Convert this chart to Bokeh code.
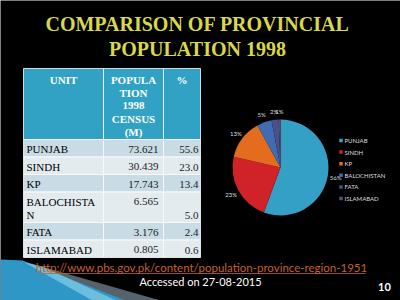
import numpy as np
from bokeh.plotting import figure
from bokeh.models import Range1d
from bokeh.embed import file_html
from bokeh.resources import INLINE
from bokeh.core.properties import value

# ---------------- data ----------------
title_lines = ["COMPARISON OF PROVINCIAL", "POPULATION 1998"]
units = ["PUNJAB", "SINDH", "KP", "BALOCHISTAN", "FATA", "ISLAMABAD"]
unit_cell_lines = [["PUNJAB"], ["SINDH"], ["KP"], ["BALOCHISTA", "N"], ["FATA"], ["ISLAMABAD"]]
population = [73.621, 30.439, 17.743, 6.565, 3.176, 0.805]
population_txt = ["73.621", "30.439", "17.743", "6.565", "3.176", "0.805"]
percent_txt = ["55.6", "23.0", "13.4", "5.0", "2.4", "0.6"]
pie_labels = ["56%", "23%", "13%", "5%", "2%", "1%"]
header_cells = [["UNIT"], ["POPULA", "TION", "1998", "CENSUS", "(M)"], ["%"]]
slice_colors = ["#35a0c6", "#cf2229", "#e46c1e", "#3f6cb2", "#4b4f8e", "#5e5068"]
link_text = "http://www.pbs.gov.pk/content/population-province-region-1951"
access_text = "Accessed on 27-08-2015"
slide_no = "10"

# ---------------- layout ----------------
W, H = 400, 300
def Y(v):
    return H - v

p = figure(width=W, height=H, x_range=Range1d(0, W), y_range=Range1d(0, H),
           output_backend="svg", toolbar_location=None, min_border=0)
p.axis.visible = False
p.grid.visible = False
p.outline_line_color = None
p.background_fill_color = "black"
p.border_fill_color = "black"

serif = value("Liberation Serif")
sans = value("Lato")

# title
for i, t in enumerate(title_lines):
    p.text(x=[197], y=[Y(23.5 + 25 * i)], text=[t], text_font=serif,
           text_font_style="bold", text_font_size="20px", text_color="#d8d84a",
           text_align="center", text_baseline="middle")

# table
col_edges = [23, 103, 163, 200]
table_top = 68
header_h = 71
p.quad(left=col_edges[:-1], right=col_edges[1:], top=[Y(table_top)] * 3,
       bottom=[Y(table_top + header_h)] * 3, fill_color="#31a2c3",
       line_color="white", line_width=0.8)
for c, lines in enumerate(header_cells):
    cx = (col_edges[c] + col_edges[c + 1]) / 2
    for j, ln in enumerate(lines):
        p.text(x=[cx], y=[Y(table_top + 11 + 13.2 * j)], text=[ln], text_font=serif,
               text_font_style="bold", text_font_size="11px", text_color="white",
               text_align="center", text_baseline="middle")

row_top = table_top + header_h
band = ["#c9dbe4", "#e4ebef"]
for i, name in enumerate(units):
    n = len(unit_cell_lines[i])
    h = 4.5 + 13 * n
    p.quad(left=col_edges[:-1], right=col_edges[1:], top=[Y(row_top)] * 3,
           bottom=[Y(row_top + h)] * 3, fill_color=band[i % 2],
           line_color="white", line_width=0.8)
    for j, ln in enumerate(unit_cell_lines[i]):
        p.text(x=[col_edges[0] + 3], y=[Y(row_top + 9.5 + 13 * j)], text=[ln],
               text_font=serif, text_font_size="11px", text_color="black",
               text_align="left", text_baseline="middle")
    p.text(x=[col_edges[2] - 5], y=[Y(row_top + 9.5)], text=[population_txt[i]],
           text_font=serif, text_font_size="11px", text_color="#222222",
           text_align="right", text_baseline="middle")
    p.text(x=[col_edges[3] - 2], y=[Y(row_top + h - 7.5)], text=[percent_txt[i]],
           text_font=serif, text_font_size="11px", text_color="#222222",
           text_align="right", text_baseline="middle")
    row_top += h

# pie
cx, cy, r = 280, 167, 48
vals = np.array(population)
frac = vals / vals.sum()
cum = np.concatenate([[0], np.cumsum(frac)])
start = np.pi / 2 - 2 * np.pi * cum[:-1]
end = np.pi / 2 - 2 * np.pi * cum[1:]
p.wedge(x=[cx] * 6, y=[Y(cy)] * 6, radius=r, start_angle=list(start), end_angle=list(end),
        direction="clock", fill_color=slice_colors, line_color=None)
mid = (start + end) / 2
lr = 56
p.text(x=list(cx + lr * np.cos(mid)), y=list(Y(cy) + lr * np.sin(mid)), text=pie_labels,
       text_font=sans, text_font_size="6px", text_color="#dddddd",
       text_align="center", text_baseline="middle")

# legend
leg_x, leg_y0, leg_dy = 340.5, 140, 11.6
ly = [Y(leg_y0 + leg_dy * i) for i in range(len(units))]
p.scatter(x=[leg_x] * 6, y=ly, marker="square", size=3.5, fill_color=slice_colors,
          line_color=None)
p.text(x=[leg_x + 3.5] * 6, y=ly, text=units, text_font=sans, text_font_size="6px",
       text_color="#dddddd", text_align="left", text_baseline="middle")

# bottom decoration
p.patch(x=[20, 160, 60], y=[Y(260), Y(300), Y(300)], fill_color="#56636c", line_color=None)
p.patch(x=[0, 22, 125, 0], y=[Y(259), Y(260), Y(300), Y(300)], fill_color="#2f97c6", line_color=None)
p.patch(x=[24, 42, 116, 92], y=[Y(262), Y(266), Y(300), Y(300)], fill_color="#86cfe9",
        fill_alpha=0.7, line_color=None)

# footer texts
p.text(x=[201], y=[Y(267)], text=[link_text], text_font=sans, text_font_size="11.5px",
       text_color="#c4612c", text_align="center", text_baseline="middle")
p.segment(x0=[38], x1=[365], y0=[Y(273)], y1=[Y(273)], line_color="#c4612c", line_width=0.8)
p.text(x=[200], y=[Y(281)], text=[access_text], text_font=sans, text_font_size="11px",
       text_color="white", text_align="center", text_baseline="middle")
p.text(x=[384], y=[Y(286)], text=[slide_no], text_font=sans, text_font_style="bold",
       text_font_size="11px", text_color="white", text_align="center", text_baseline="middle")

open("out.html", "w").write(file_html(p, INLINE))
